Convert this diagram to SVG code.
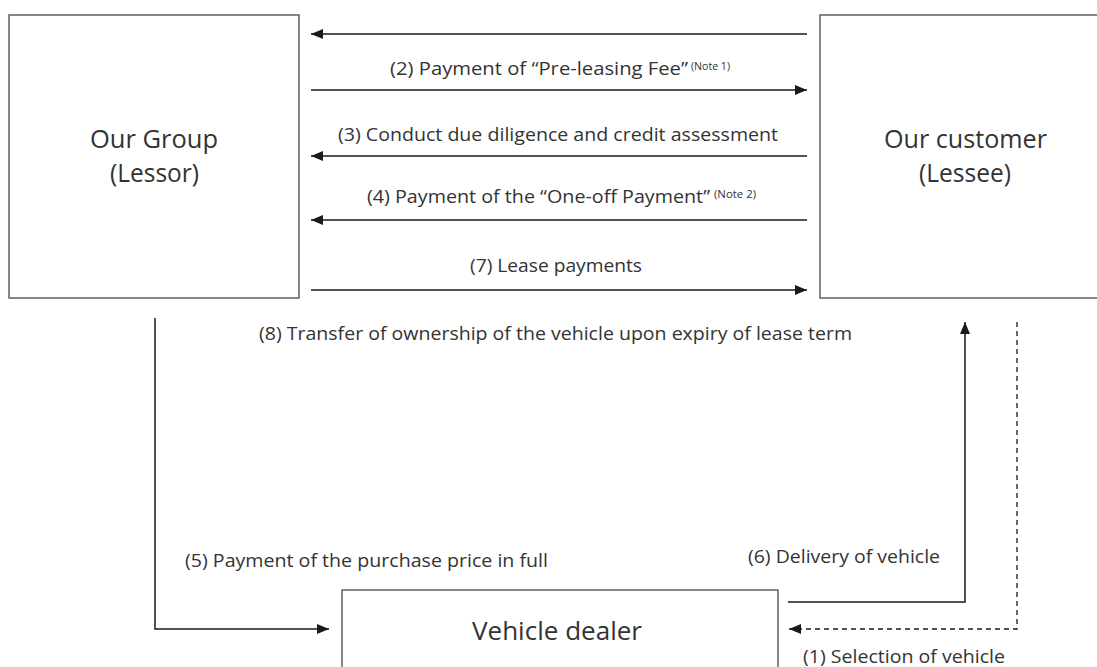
<svg xmlns="http://www.w3.org/2000/svg" width="1097" height="667" viewBox="0 0 1097 667">
<defs>
<marker id="ah" viewBox="0 0 12 10" refX="12" refY="5" markerWidth="12" markerHeight="10" markerUnits="userSpaceOnUse" orient="auto">
<path d="M0,0 L12,5 L0,10 Z" fill="#1a1a1a"/>
</marker>
<style>
.box{fill:#fff;stroke:#555;stroke-width:1.4}
.ln{fill:none;stroke:#1a1a1a;stroke-width:1.5}
.dash{fill:none;stroke:#1a1a1a;stroke-width:1.3;stroke-dasharray:5 4}
.lbl{font-family:"Open Sans","Noto Sans","Liberation Sans",sans-serif;font-size:19px;fill:#333}
.big{font-family:"Open Sans","Noto Sans","Liberation Sans",sans-serif;font-size:26px;fill:#333}
.sup{font-family:"Open Sans","Noto Sans","Liberation Sans",sans-serif;font-size:11px;fill:#333}
</style>
</defs>
<rect width="1097" height="667" fill="#fff"/>
<g id="lessor">
<rect class="box" x="9" y="15" width="290" height="283"/>
<text class="big" x="90" y="148" textLength="128" lengthAdjust="spacingAndGlyphs">Our Group</text>
<text class="big" x="110" y="182" textLength="89" lengthAdjust="spacingAndGlyphs">(Lessor)</text>
</g>
<g id="lessee">
<rect class="box" x="820" y="15" width="290" height="283"/>
<text class="big" x="884" y="148" textLength="163" lengthAdjust="spacingAndGlyphs">Our customer</text>
<text class="big" x="919" y="182" textLength="92" lengthAdjust="spacingAndGlyphs">(Lessee)</text>
</g>
<g id="dealer">
<rect class="box" x="342" y="590" width="436" height="100"/>
<text class="big" x="472" y="640" textLength="170" lengthAdjust="spacingAndGlyphs">Vehicle dealer</text>
</g>
<g id="connectors">
<line class="ln" x1="807" y1="34" x2="311" y2="34" marker-end="url(#ah)"/>
<line class="ln" x1="311" y1="90" x2="807" y2="90" marker-end="url(#ah)"/>
<line class="ln" x1="807" y1="156" x2="311" y2="156" marker-end="url(#ah)"/>
<line class="ln" x1="807" y1="220" x2="311" y2="220" marker-end="url(#ah)"/>
<line class="ln" x1="311" y1="290" x2="807" y2="290" marker-end="url(#ah)"/>
<polyline class="ln" points="155,318 155,629 329,629" marker-end="url(#ah)"/>
<polyline class="ln" points="788,602 965,602 965,322" marker-end="url(#ah)"/>
<polyline class="dash" points="1017,322 1017,629 789,629" marker-end="url(#ah)"/>
</g>
<g id="labels">
<text class="lbl" x="390" y="75" textLength="298" lengthAdjust="spacingAndGlyphs">(2) Payment of “Pre-leasing Fee”</text>
<text class="sup" x="691" y="70" textLength="39" lengthAdjust="spacingAndGlyphs">(Note 1)</text>
<text class="lbl" x="338" y="141" textLength="440" lengthAdjust="spacingAndGlyphs">(3) Conduct due diligence and credit assessment</text>
<text class="lbl" x="367" y="203" textLength="343" lengthAdjust="spacingAndGlyphs">(4) Payment of the “One-off Payment”</text>
<text class="sup" x="714" y="198" textLength="42" lengthAdjust="spacingAndGlyphs">(Note 2)</text>
<text class="lbl" x="470" y="272" textLength="172" lengthAdjust="spacingAndGlyphs">(7) Lease payments</text>
<text class="lbl" x="259" y="340" textLength="593" lengthAdjust="spacingAndGlyphs">(8) Transfer of ownership of the vehicle upon expiry of lease term</text>
<text class="lbl" x="185" y="567" textLength="363" lengthAdjust="spacingAndGlyphs">(5) Payment of the purchase price in full</text>
<text class="lbl" x="748" y="563" textLength="192" lengthAdjust="spacingAndGlyphs">(6) Delivery of vehicle</text>
<text class="lbl" x="803" y="663" textLength="202" lengthAdjust="spacingAndGlyphs">(1) Selection of vehicle</text>
</g>
</svg>
